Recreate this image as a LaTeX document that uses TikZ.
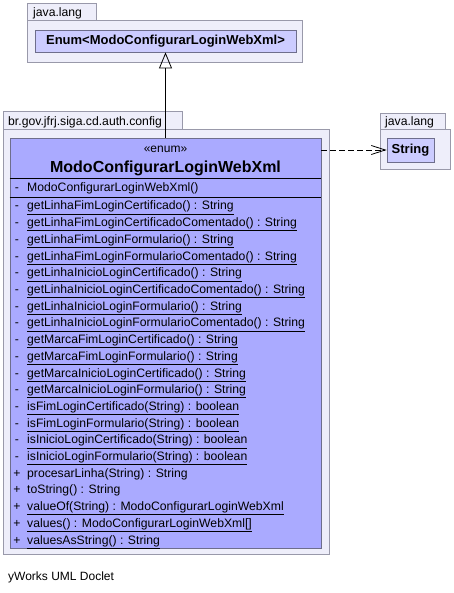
\documentclass[tikz,border=0pt]{standalone}
\usepackage{fontspec}
\setmainfont{Liberation Sans}
\usetikzlibrary{arrows.meta}

\definecolor{pkgfill}{RGB}{238,238,250}
\definecolor{pkgline}{RGB}{153,153,170}
\definecolor{clsfill}{RGB}{170,170,255}
\definecolor{reffill}{RGB}{204,204,255}
\definecolor{clsline}{RGB}{110,110,140}

\tikzset{
	pkgbox/.style={draw=pkgline, fill=pkgfill, line width=0.8pt},
	pkglabel/.style={anchor=base west, inner sep=0pt, font=\fontsize{12.2}{13}\selectfont},
	classbox/.style={draw=clsline, fill=clsfill, line width=0.8pt, inner sep=0pt},
	refbox/.style={draw=clsline, fill=reffill, line width=0.8pt, inner sep=0pt},
	member/.style={anchor=base west, inner sep=0pt, font=\fontsize{12.2}{13}\selectfont},
}

\begin{document}
\begin{tikzpicture}[x=1pt, y=-1pt]
	\useasboundingbox (0,0) rectangle (454,593);

	% package java.lang (Enum)
	\draw[pkgbox] (27,3) rectangle (96,20);
	\draw[pkgbox] (27,20) rectangle (302,62);
	\node[pkglabel] (pkgenum) at (33,17) {java.lang};
	\node[refbox, minimum width=261, minimum height=22, font=\fontsize{13}{14}\selectfont\bfseries] (enum) at (165.5,41) {Enum<ModoConfigurarLoginWebXml>};

	% package java.lang (String)
	\draw[pkgbox] (380,113) rectangle (445,129);
	\draw[pkgbox] (380,129) rectangle (450,169);
	\node[pkglabel] (pkgstr) at (385,126) {java.lang};
	\node[refbox, minimum width=47, minimum height=24, font=\fontsize{13}{14}\selectfont\bfseries] (str) at (410.5,150) {String};

	% package br.gov.jfrj.siga.cd.auth.config
	\draw[pkgbox] (3,111) rectangle (182,129);
	\draw[pkgbox] (3,129) rectangle (329,554);
	\node[pkglabel] (pkgmain) at (8,126) {br.gov.jfrj.siga.cd.auth.config};

	% the enum class
	\node[classbox, minimum width=311, minimum height=410] (cls) at (165.5,343) {};
	\node[anchor=base, inner sep=0pt, font=\fontsize{12}{13}\selectfont] (stereo) at (165.5,152.5) {«enum»};
	\node[anchor=base, inner sep=0pt, font=\fontsize{16}{17}\selectfont\bfseries] (name) at (165.5,173) {ModoConfigurarLoginWebXml};
	\draw (cls.west |- 0,178) -- (cls.east |- 0,178);
	\draw (cls.west |- 0,197) -- (cls.east |- 0,197);

	\node[member, anchor=base] (visc) at (17,191.5) {-};
	\node[member] (ctor) at (27,191.5) {ModoConfigurarLoginWebXml()};

	\foreach \vis/\txt [count=\i] in {
		-/\underline{getLinhaFimLoginCertificado() : String},
		-/\underline{getLinhaFimLoginCertificadoComentado() : String},
		-/\underline{getLinhaFimLoginFormulario() : String},
		-/\underline{getLinhaFimLoginFormularioComentado() : String},
		-/\underline{getLinhaInicioLoginCertificado() : String},
		-/\underline{getLinhaInicioLoginCertificadoComentado() : String},
		-/\underline{getLinhaInicioLoginFormulario() : String},
		-/\underline{getLinhaInicioLoginFormularioComentado() : String},
		-/\underline{getMarcaFimLoginCertificado() : String},
		-/\underline{getMarcaFimLoginFormulario() : String},
		-/\underline{getMarcaInicioLoginCertificado() : String},
		-/\underline{getMarcaInicioLoginFormulario() : String},
		-/\underline{isFimLoginCertificado(String) : boolean},
		-/\underline{isFimLoginFormulario(String) : boolean},
		-/\underline{isInicioLoginCertificado(String) : boolean},
		-/\underline{isInicioLoginFormulario(String) : boolean},
		+/procesarLinha(String) : String,
		+/toString() : String,
		+/\underline{valueOf(String) : ModoConfigurarLoginWebXml},
		+/\underline{values() : ModoConfigurarLoginWebXml[]},
		+/\underline{valuesAsString() : String}}
	{
		\node[member, anchor=base] (vis\i) at (17,{210+(\i-1)*16.7}) {\vis};
		\node[member] (m\i) at (27,{210+(\i-1)*16.7}) {\txt};
	}

	% relations
	\draw[line width=0.8pt, -{Triangle[open, length=16, width=13]}] (cls.north) -- (enum.south);
	\draw[line width=0.8pt, dash pattern=on 6pt off 3pt, -{Straight Barb[length=14, width=9]}] (cls.north east |- str) -- (str.west);

	\node[anchor=base west, inner sep=0pt, font=\fontsize{12}{13}\selectfont] (footer) at (8,580) {yWorks UML Doclet};
\end{tikzpicture}
\end{document}
